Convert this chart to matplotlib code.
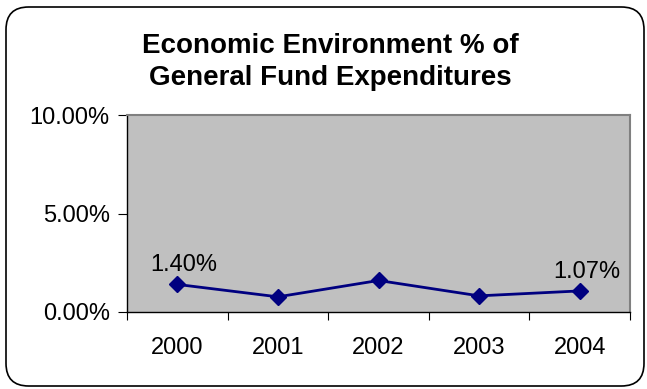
import matplotlib
matplotlib.use("Agg")
from matplotlib import pyplot as plt
from matplotlib.patches import FancyBboxPatch
from matplotlib.ticker import FixedLocator, NullFormatter

years = ["2000", "2001", "2002", "2003", "2004"]
share = [1.40, 0.77, 1.60, 0.82, 1.07]   # % of general fund expenditures
labelled = {0: "1.40%", 4: "1.07%"}

plt.rcParams['font.family'] = ['Liberation Sans', 'DejaVu Sans']

W, H = 647, 389
fig = plt.figure(figsize=(W / 100, H / 100), dpi=100)
fig.patch.set_facecolor("white")

# rounded frame round the whole chart
frame = FancyBboxPatch((6 / W, 3 / H), 638 / W, 379 / H,
                       boxstyle="round,pad=0,rounding_size=0.035",
                       transform=fig.transFigure, facecolor="none",
                       edgecolor="black", linewidth=1.2, mutation_aspect=W / H)
fig.patches.append(frame)

ax = fig.add_axes([127 / W, 1 - 312 / H, 503 / W, 197 / H])
ax.set_facecolor("#C0C0C0")

xs = list(range(len(years)))
ax.plot(xs, share, color="#000080", linewidth=2, marker="D", markersize=8,
        markerfacecolor="#000080", markeredgecolor="#000080", zorder=3)

for i, txt in labelled.items():
    ax.annotate(txt, (xs[i], share[i]), xytext=(5, 6), textcoords="offset points",
                ha="center", va="bottom", fontsize=17)

ax.set_xlim(-0.5, len(years) - 0.5)
ax.set_ylim(0, 10)
ax.set_yticks([0, 5, 10])
ax.set_yticklabels(["0.00%", "5.00%", "10.00%"], fontsize=17)

# ticks sit on the category boundaries, labels in the middle
ax.xaxis.set_major_locator(FixedLocator([x - 0.5 for x in range(len(years) + 1)]))
ax.xaxis.set_major_formatter(NullFormatter())
ax.xaxis.set_minor_locator(FixedLocator(xs))
ax.set_xticklabels(years, minor=True, fontsize=17)
ax.tick_params(axis="x", which="major", length=6, direction="out", color="black")
ax.tick_params(axis="x", which="minor", length=0, pad=18)
ax.tick_params(axis="y", length=6.5, direction="out", pad=6)

for side in ["top", "right"]:
    ax.spines[side].set_color("#808080")
    ax.spines[side].set_linewidth(1.5)
for side in ["left", "bottom"]:
    ax.spines[side].set_color("black")
    ax.spines[side].set_linewidth(1)

fig.text(330 / W, 1 - 62 / H, "Economic Environment % of\nGeneral Fund Expenditures",
         ha="center", va="center", fontsize=20, fontweight="bold", linespacing=1.3)

fig.savefig("out.png", dpi=100)
